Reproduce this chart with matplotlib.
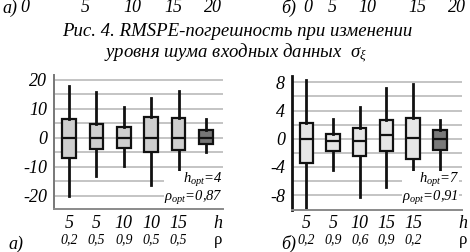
import matplotlib
matplotlib.use("Agg")
import matplotlib.pyplot as plt
from matplotlib.transforms import blended_transform_factory

plt.rcParams['font.family'] = ['Liberation Serif', 'DejaVu Serif']
plt.rcParams['font.style'] = 'italic'
plt.rcParams['mathtext.fontset'] = 'custom'
plt.rcParams['mathtext.rm'] = 'Liberation Serif:italic'
plt.rcParams['mathtext.it'] = 'Liberation Serif:italic'

# ---- data (panel a) ----
a_h = ['5', '5', '10', '10', '15']
a_rho = ['0,2', '0,5', '0,9', '0,5', '0,5']
a_whislo = [-20, -13, -9.7, -16.2, -13.2, -5.0]
a_q1 = [-7, -3.9, -3.3, -4.7, -4.1, -2.1]
a_med = [0, 0, 0, 0, 0, 0]
a_q3 = [6.5, 4.7, 3.6, 7.1, 7.0, 2.8]
a_whishi = [17.9, 15.7, 10.8, 13.7, 16.3, 6.4]

# ---- data (panel b) ----
b_h = ['5', '5', '10', '15', '15']
b_rho = ['0,2', '0,9', '0,6', '0,9', '0,2']
b_whislo = [-9.8, -4.4, -8.2, -6.8, -7.5, -4.4]
b_q1 = [-3.4, -1.7, -2.4, -1.7, -2.9, -1.6]
b_med = [0, -0.25, -0.25, 0.6, 0.1, 0]
b_q3 = [2.2, 0.7, 1.5, 2.7, 2.9, 1.2]
b_whishi = [8.4, 2.8, 4.5, 7.2, 7.7, 2.7]

top_ticks = ['0', '5', '10', '15', '20']

W, H = 470, 252
fig = plt.figure(figsize=(W / 100, H / 100), dpi=100)


def px_axes(x0, x1, y0, y1):
    return fig.add_axes([x0 / W, 1 - y1 / H, (x1 - x0) / W, (y1 - y0) / H])


def draw_panel(ax, whislo, q1, med, q3, whishi, light, dark, ylim, xlim,
               major, minor, spine_color, spine_w):
    stats = []
    for i in range(len(med)):
        stats.append(dict(whislo=whislo[i], q1=q1[i], med=med[i], q3=q3[i],
                          whishi=whishi[i], fliers=[]))
    pos = list(range(1, len(stats) + 1))
    bp = ax.bxp(stats, positions=pos, widths=0.5, showcaps=False,
                patch_artist=True, showfliers=False,
                boxprops=dict(linewidth=1.6, edgecolor='#111111'),
                whiskerprops=dict(linewidth=2.0, color='#111111'),
                medianprops=dict(linewidth=1.6, color='#111111'))
    for i, b in enumerate(bp['boxes']):
        b.set_facecolor(dark if i == len(stats) - 1 else light)
    ax.set_ylim(*ylim)
    ax.set_xlim(*xlim)
    ax.set_yticks(major)
    ax.set_yticks(minor, minor=True)
    ax.set_xticks([])
    ax.grid(True, which='both', axis='y', color='#c4c4c4', linewidth=1.4)
    ax.set_axisbelow(True)
    ax.tick_params(axis='y', which='both', length=0, labelsize=13, pad=5)
    for lab in ax.get_yticklabels():
        lab.set_fontstyle('italic')
    for s in ['top', 'right']:
        ax.spines[s].set_visible(False)
    ax.spines['left'].set_color(spine_color)
    ax.spines['left'].set_linewidth(spine_w)
    ax.spines['bottom'].set_color('#8a8a8a')
    ax.spines['bottom'].set_linewidth(1.4)


# panel a
axa = px_axes(54, 223, 75, 209)
draw_panel(axa, a_whislo, a_q1, a_med, a_q3, a_whishi, '#cfcfcf', '#767676',
           (-24.5, 21.7), (0.45, 6.62), [-20, -10, 0, 10, 20],
           [-15, -5, 5, 15], '#777777', 1.4)
axa.set_yticklabels(['-20', '-10', '0', '10', '20'])

# panel b
axb = px_axes(292, 462, 76, 210)
draw_panel(axb, b_whislo, b_q1, b_med, b_q3, b_whishi, '#e6e6e6', '#7a7a7a',
           (-10.1, 8.9), (0.46, 6.83), [-8, -4, 0, 4, 8],
           [-6, -2, 2, 6], '#111111', 2.0)
axb.set_yticklabels(['-8', '-4', '0', '4', '8'])


def bottom_labels(ax, hs, rhos, hx, letter, letter_x):
    tr = blended_transform_factory(ax.transData, fig.transFigure)
    for i, (h, r) in enumerate(zip(hs, rhos)):
        ax.text(i + 1, 1 - 224 / H, h, transform=tr, ha='center', va='center',
                fontsize=13, style='italic')
        ax.text(i + 1, 1 - 240 / H, r, transform=tr, ha='center', va='center',
                fontsize=10, style='italic')
    ax.text(hx, 1 - 224 / H, 'h', transform=tr, ha='center', va='center',
            fontsize=13, style='italic')
    ax.text(hx, 1 - 240 / H, 'ρ', transform=tr, ha='center', va='center',
            fontsize=12, style='normal')
    fig.text(letter_x / W, 1 - 244 / H, letter, ha='center', va='center',
             fontsize=13, style='italic')


bottom_labels(axa, a_h, a_rho, 6.44, 'а)', 16)
bottom_labels(axb, b_h, b_rho, 6.88, 'б)', 289)


def opt_labels(xr, txt):
    fig.text(xr / W, 1 - 189 / H, txt, ha='right', va='center', fontsize=10.5,
             multialignment='right', linespacing=1.05,
             bbox=dict(facecolor='white', edgecolor='none', pad=0))


opt_labels(223, '$h_{opt}$=4\n' + r'$\rho_{opt}$=0,87')
opt_labels(459, '$h_{opt}$=7\n' + r'$\rho_{opt}$=0,91')

# top fragment of previous figure axis
fig.text(2 / W, 1 - 8 / H, 'а)', ha='left', va='center', fontsize=13)
for t, x in zip(top_ticks, [25, 85, 132, 173, 213]):
    fig.text(x / W, 1 - 8 / H, t, ha='center', va='center', fontsize=13)
fig.text(289 / W, 1 - 8 / H, 'б)', ha='center', va='center', fontsize=13)
for t, x in zip(top_ticks, [308, 332, 367, 417, 457]):
    fig.text(x / W, 1 - 8 / H, t, ha='center', va='center', fontsize=13)

# caption
fig.text(237 / W, 1 - 31 / H, 'Рис. 4. RMSPE-погрешность при изменении',
         ha='center', va='center', fontsize=13.5)
fig.text(236 / W, 1 - 53 / H, r'уровня шума входных данных  $\sigma_\xi$',
         ha='center', va='center', fontsize=13.5)

fig.savefig('out.png', dpi=100)
